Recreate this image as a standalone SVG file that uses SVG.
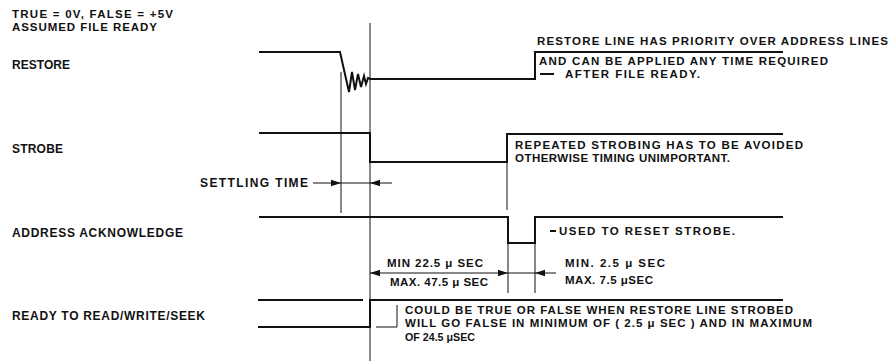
<svg xmlns="http://www.w3.org/2000/svg" width="891" height="361" viewBox="0 0 891 361">
<defs>
<style>
text{font-family:"Liberation Sans",Arial,sans-serif;font-weight:bold;font-size:12px;fill:#111;}
.note{font-size:11.5px;}
.sig{fill:none;stroke:#111;stroke-width:2;stroke-linejoin:miter;}
.thin{fill:none;stroke:#111;stroke-width:1;}
.dim{fill:none;stroke:#111;stroke-width:1;}
</style>
<marker id="ah" viewBox="0 0 10 8" refX="10" refY="4" markerWidth="10" markerHeight="8" markerUnits="userSpaceOnUse" orient="auto">
<path d="M0,0.8 L10,4 L0,7.2 Z" fill="#111"/>
</marker>
</defs>
<rect width="891" height="361" fill="#fff"/>

<g id="legend">
<text class="note" x="12" y="18" textLength="161" lengthAdjust="spacing">TRUE = 0V, FALSE = +5V</text>
<text class="note" x="12" y="31" textLength="145" lengthAdjust="spacing">ASSUMED FILE READY</text>
</g>

<g id="restore">
<text x="12" y="69" textLength="58" lengthAdjust="spacing">RESTORE</text>
<path class="sig" d="M259,52 H340 L349,92 L352,72 L355,90 L358,74 L361,87 L364,76 L366,84 L368,78 L371,79 H535 V52 H783"/>
<text class="note" x="537" y="45" textLength="351" lengthAdjust="spacing">RESTORE LINE HAS PRIORITY OVER ADDRESS LINES</text>
<text class="note" x="539" y="65" textLength="289" lengthAdjust="spacing">AND CAN BE APPLIED ANY TIME REQUIRED</text>
<line class="sig" x1="540" y1="74" x2="554" y2="74"/>
<text class="note" x="565" y="78" textLength="135" lengthAdjust="spacing">AFTER FILE READY.</text>
</g>

<g id="strobe">
<text x="12" y="153" textLength="51" lengthAdjust="spacing">STROBE</text>
<path class="sig" d="M259,133 H370 V162 H507 V134 H783"/>
<text class="note" x="515" y="149" textLength="288" lengthAdjust="spacing">REPEATED STROBING HAS TO BE AVOIDED</text>
<text class="note" x="515" y="162" textLength="215" lengthAdjust="spacing">OTHERWISE TIMING UNIMPORTANT.</text>
</g>

<g id="settling">
<text x="200" y="187" textLength="108" lengthAdjust="spacing">SETTLING TIME</text>
</g>

<g id="address-acknowledge">
<text x="12" y="237" textLength="171" lengthAdjust="spacing">ADDRESS  ACKNOWLEDGE</text>
<path class="sig" d="M259,217 H508 V243 H535 V217 H783"/>
<line class="sig" x1="550" y1="231" x2="556" y2="231"/>
<text class="note" x="559" y="235" textLength="176" lengthAdjust="spacing">USED TO RESET STROBE.</text>
</g>

<g id="timing-labels">
<text class="note" x="387" y="267" textLength="96" lengthAdjust="spacing">MIN 22.5 μ SEC</text>
<text class="note" x="390" y="286" textLength="98" lengthAdjust="spacing">MAX. 47.5 μ SEC</text>
<text class="note" x="565" y="267" textLength="100" lengthAdjust="spacing">MIN. 2.5 μ SEC</text>
<text class="note" x="565" y="284" textLength="88" lengthAdjust="spacing">MAX. 7.5 μSEC</text>
</g>

<g id="ready">
<text x="12" y="320" textLength="193" lengthAdjust="spacing">READY TO READ/WRITE/SEEK</text>
<path class="sig" d="M258,300 H363"/>
<path class="sig" d="M258,327 H370 V300 H783"/>
<path class="thin" d="M376,327 H397 V305"/>
<text class="note" x="405" y="314" textLength="388" lengthAdjust="spacing">COULD BE TRUE OR FALSE WHEN RESTORE LINE STROBED</text>
<text class="note" x="405" y="327" textLength="407" lengthAdjust="spacing">WILL GO FALSE IN MINIMUM OF ( 2.5 μ SEC ) AND IN MAXIMUM</text>
<text class="note" x="405" y="341" textLength="70" lengthAdjust="spacingAndGlyphs">OF 24.5 μSEC</text>
</g>

<g id="connectors">
<line class="thin" x1="341" y1="72" x2="341" y2="213"/>
<line class="thin" x1="370" y1="23" x2="370" y2="361"/>
<line class="thin" x1="507" y1="162" x2="507" y2="210"/>
<line class="thin" x1="508" y1="243" x2="508" y2="293"/>
<line class="thin" x1="535" y1="243" x2="535" y2="293"/>
<line class="dim" x1="313" y1="183" x2="341" y2="183" marker-end="url(#ah)"/>
<line class="dim" x1="341" y1="183" x2="370" y2="183"/>
<line class="dim" x1="392" y1="183" x2="370" y2="183" marker-end="url(#ah)"/>
<line class="dim" x1="440" y1="273" x2="370" y2="273" marker-end="url(#ah)"/>
<line class="dim" x1="440" y1="273" x2="508" y2="273" marker-end="url(#ah)"/>
<line class="dim" x1="508" y1="273" x2="535" y2="273"/>
<line class="dim" x1="556" y1="273" x2="535" y2="273" marker-end="url(#ah)"/>
</g>
</svg>
